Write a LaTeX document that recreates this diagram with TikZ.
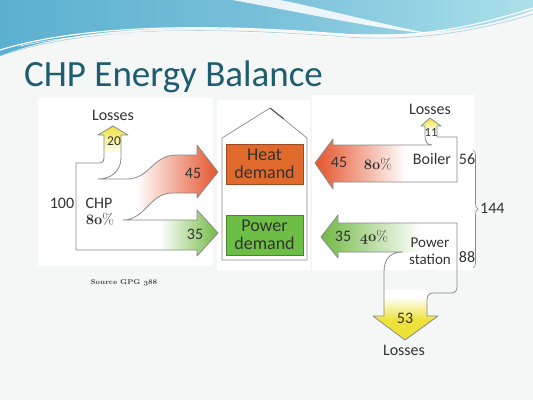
\documentclass[tikz,border=0pt]{standalone}
\usepackage{fontspec}
\usetikzlibrary{decorations.pathreplacing}
\newfontfamily\lblfont{Carlito}
\newcommand\osnum[1]{{\usefont{OML}{cmm}{b}{it}#1}}
\definecolor{bgc}{HTML}{F5F6F6}
\definecolor{titlec}{HTML}{1F5C70}
\definecolor{txt}{HTML}{333333}
\definecolor{linegray}{HTML}{8A8A8A}
\definecolor{chpred}{HTML}{E4532B}
\definecolor{heatorange}{HTML}{E06A2C}
\definecolor{powergreen}{HTML}{6DBE45}
\definecolor{arrowgreen}{HTML}{72B944}
\definecolor{yel}{HTML}{EDE23A}
\definecolor{waveL}{RGB}{92,176,207}
\definecolor{waveM}{RGB}{120,192,218}
\definecolor{waveR}{RGB}{172,224,234}
\pgfdeclarehorizontalshading{waveS}{100bp}{color(0bp)=(waveL); color(25bp)=(waveL); color(50bp)=(waveM); color(75bp)=(waveR); color(100bp)=(waveR)}
\pgfdeclarehorizontalshading{redL}{100bp}{color(0bp)=(white); color(25bp)=(white); color(41bp)=(white); color(70bp)=(chpred!85); color(75bp)=(chpred); color(100bp)=(chpred)}
\pgfdeclarehorizontalshading{greenL}{100bp}{color(0bp)=(white); color(25bp)=(white); color(48bp)=(white); color(75bp)=(arrowgreen); color(100bp)=(arrowgreen)}
\pgfdeclarehorizontalshading{redR}{100bp}{color(0bp)=(chpred); color(25bp)=(chpred); color(57bp)=(white); color(100bp)=(white)}
\pgfdeclarehorizontalshading{greenR}{100bp}{color(0bp)=(arrowgreen); color(25bp)=(arrowgreen); color(45bp)=(arrowgreen!45); color(62bp)=(white); color(100bp)=(white)}
\pgfdeclareverticalshading{yelUp}{100bp}{color(0bp)=(white); color(25bp)=(white); color(45bp)=(white); color(75bp)=(yel); color(100bp)=(yel)}
\pgfdeclareverticalshading{yelDown}{100bp}{color(0bp)=(yel); color(25bp)=(yel); color(45bp)=(yel); color(68bp)=(white); color(100bp)=(white)}
\tikzset{
  outline/.style={draw=linegray, line width=0.8pt, line join=round},
  lbl/.style={font=\lblfont\fontsize{16}{17}\selectfont, text=txt, inner sep=0pt},
  pct/.style={font=\fontsize{15}{17}\selectfont, text=txt, inner sep=0pt},
  demandbox/.style={draw=#1!70!black, fill=#1, line width=0.6pt, minimum width=77pt, minimum height=40pt, inner sep=0pt, align=center,
    font=\lblfont\fontsize{18}{19}\selectfont, text=black!80},
  panel/.style={fill=white, draw=none},
}
\begin{document}
\begin{tikzpicture}[x=1pt,y=-1pt]
\useasboundingbox (0,0) rectangle (533,400);
\fill[bgc] (0,0) rectangle (533,400);
% top waves
\shade[shading=waveS] (0,0) -- (533,0) -- (533,10) .. controls (470,34) and (400,37) .. (330,33) .. controls (230,27) and (90,20) .. (0,56) -- cycle;
\fill[white, opacity=0.85] (232,0) .. controls (300,12) and (370,28) .. (432,34) .. controls (372,22) and (312,6) .. (280,0) -- cycle;
\draw[white, line width=1.2pt] (0,50) .. controls (90,22) and (230,25) .. (340,34) .. controls (420,40) and (480,25) .. (533,8);
\draw[cyan!40!teal!50, line width=0.7pt, opacity=0.7] (0,56) .. controls (90,24) and (230,28) .. (345,37) .. controls (420,42) and (480,30) .. (533,14);
\draw[white, line width=0.6pt, opacity=0.9] (20,46) .. controls (110,26) and (240,30) .. (350,38);
% title
\node[anchor=base west, inner sep=0pt, font=\lblfont\fontsize{37}{42}\selectfont, text=titlec] (title) at (24,86) {CHP Energy Balance};
% panels
\fill[panel] (38,98) rectangle (213,266);
\fill[panel] (217,100) rectangle (310,270);
\fill[panel] (312,95) rectangle (475,270);
% ---- CHP (left) ----
\shade[shading=yelUp] (104,172) -- (104,135) -- (98,135) -- (113,126) -- (128,135) -- (121,135) -- (121,172) -- cycle;
\shade[shading=redL] (98,179) -- (127,179) .. controls (150,179) and (152,155) .. (177,155) -- (197,155) -- (197,145) -- (218,172) -- (197,198) -- (197,193) -- (172,193) .. controls (150,193) and (145,220) .. (123,220) -- (98,220) -- cycle;
\shade[shading=greenL] (110,220) -- (197,220) -- (197,210) -- (218,233) -- (197,256) -- (197,250) -- (110,250) -- cycle;
\draw[outline] (197,250) -- (76,250) -- (76,163) -- (100,163) .. controls (103,163) and (104,161) .. (104,158) -- (104,135) -- (98,135) -- (113,126) -- (128,135) -- (121,135) -- (121,158) .. controls (121,172) and (110,179) .. (98,179) -- (127,179) .. controls (150,179) and (152,155) .. (177,155) -- (197,155) -- (197,145) -- (218,172) -- (197,198) -- (197,193) -- (172,193) .. controls (150,193) and (145,220) .. (123,220) -- (197,220) -- (197,210) -- (218,233) -- (197,256) -- cycle;
\node[lbl] (chploss) at (113,115) {Losses};
\node[lbl, font=\lblfont\fontsize{13.5}{15}\selectfont] (chp20) at (114,141) {20};
\node[lbl] (chp45) at (193,173) {45};
\node[lbl] (chp35) at (195,234) {35};
\node[lbl] (chp100) at (62,203) {100};
\node[lbl] (chpname) at (99,203) {CHP};
\node[pct] (chpeff) at (100,219) {\osnum{80}\%};
\node[inner sep=0pt, font=\fontsize{7}{8}\selectfont\bfseries, text=black!75] (source) at (124,283) {Source GPG \osnum{388}};
% ---- demand house (centre) ----
\draw[line width=0.7pt, draw=linegray] (222,260) -- (222,138) -- (270,108) -- (307,138) -- (307,260) -- cycle;
\draw[line width=1pt, draw=black!70] (270,108) -- (284,119);
\node[demandbox=heatorange] (heat) at (264.5,164) {Heat\\[-1pt]demand};
\node[demandbox=powergreen] (power) at (264.5,235) {Power\\[-1pt]demand};
% ---- Boiler (right) ----
\shade[shading=yelUp] (425,140) -- (425,126) -- (421,126) -- (430,118) -- (441,126) -- (437,126) -- (437,140) -- cycle;
\shade[shading=redR] (315,163) -- (333,139) -- (333,145) -- (457,145) -- (457,182) -- (333,182) -- (333,189) -- cycle;
\draw[outline] (333,145) -- (432,145) .. controls (427,145) and (425,141) .. (425,136) -- (425,126) -- (421,126) -- (430,118) -- (441,126) -- (437,126) -- (437,137) -- (457,137) -- (457,182) -- (333,182) -- (333,189) -- (315,163) -- (333,139) -- cycle;
\node[lbl] (boilloss) at (430,109) {Losses};
\node[lbl, font=\lblfont\fontsize{12.5}{14}\selectfont] (boil11) at (431,132) {11};
\node[lbl] (boil45) at (339,162) {45};
\node[pct] (boileff) at (378,164) {\osnum{80}\%};
\node[lbl] (boilname) at (432,159) {Boiler};
\node[lbl] (boil56) at (467,159) {56};
% ---- Power station (right) ----
\shade[shading=yelDown] (384,290) -- (384,316) -- (373,316) -- (405,340) -- (438,316) -- (427,316) -- (427,290) -- cycle;
\shade[shading=greenR] (321,237) -- (338,215) -- (338,223) -- (457,223) -- (457,252) -- (338,252) -- (338,258) -- cycle;
\draw[outline] (403,252) -- (338,252) -- (338,258) -- (321,237) -- (338,215) -- (338,223) -- (457,223) -- (457,287) .. controls (457,291) and (455,293) .. (451,293) -- (433,293) .. controls (429,293) and (427,296) .. (427,300) -- (427,316) -- (438,316) -- (405,340) -- (373,316) -- (384,316) -- (384,272) .. controls (384,258) and (391,252) .. (403,252);
\node[lbl] (ps35) at (343,236) {35};
\node[pct] (pseff) at (374,237) {\osnum{40}\%};
\node[lbl, align=center, font=\lblfont\fontsize{15}{16.5}\selectfont] (psname) at (430,251) {Power\\station};
\node[lbl] (ps88) at (467,257) {88};
\node[lbl] (ps53) at (405,318) {53};
\node[lbl] (psloss) at (404,350) {Losses};
% brace
\draw[draw=linegray, line width=0.6pt, decorate, decoration={brace, amplitude=5pt}] (473,150) -- (473,268);
\node[lbl, anchor=west] (total) at (480,208) {144};
\end{tikzpicture}
\end{document}
